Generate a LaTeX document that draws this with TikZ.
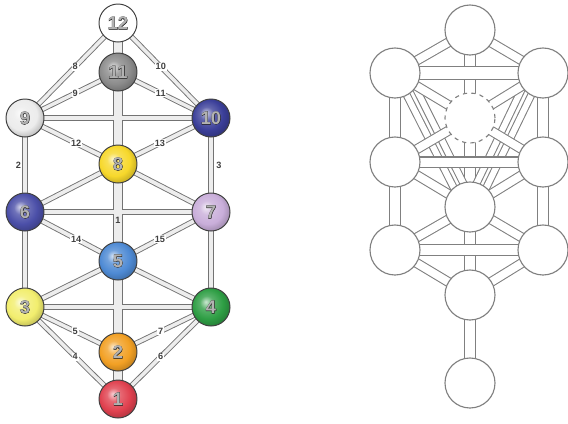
\documentclass[tikz,border=0pt]{standalone}
\usepackage{fontspec}
\setmainfont{Liberation Sans}
\newfontfamily\numoutline{Liberation Sans Bold}[FakeBold=3]
\newfontfamily\numfill{Liberation Sans Bold}
\usetikzlibrary{backgrounds}

\definecolor{c1}{HTML}{E0414F}
\definecolor{c2}{HTML}{F2A024}
\definecolor{c3}{HTML}{F2EE6E}
\definecolor{c4}{HTML}{2E9E44}
\definecolor{c5}{HTML}{4E8AD4}
\definecolor{c6}{HTML}{4B4FA8}
\definecolor{c7}{HTML}{C9AEDA}
\definecolor{c8}{HTML}{F7D82B}
\definecolor{c9}{HTML}{ECECEC}
\definecolor{c10}{HTML}{3B3F99}
\definecolor{c11}{HTML}{8C8C8C}

\colorlet{ballc}{gray}
\pgfdeclareradialshading[ballc]{softball}{\pgfpoint{-7bp}{7bp}}{%
  color(0bp)=(ballc!25!white); color(9bp)=(ballc!80!white);
  color(20bp)=(ballc); color(31bp)=(ballc!75!black); color(50bp)=(ballc!60!black)}

% number with dark rim and light face
\newcommand\ballnum[1]{\makebox[0pt]{\numoutline\color{black!85}#1}\makebox[0pt]{\numfill\color{black!30}#1}}

\tikzset{
  orb/.style={circle, draw=black!75, line width=0.7pt, minimum size=0.95cm, inner sep=0pt,
    font=\fontsize{13}{13}\selectfont},
  sphere/.style={orb, /utils/exec={\colorlet{ballc}{#1}}, shading=softball},
  pathlabel/.style={fill=white, inner sep=0.6pt, font=\fontsize{6.5}{7}\selectfont\bfseries, text=black!75},
  sefira/.style={circle, draw=black!50, line width=0.8pt, fill=white, minimum size=1.25cm, inner sep=0pt},
  channel/.style={draw=black!50, line width=0.75pt, double=white, double distance=#1,
    shorten <=-3pt, shorten >=-3pt},
}

\def\leftpaths{n12/n11/6.5pt, n11/n8/6.5pt, n8/n5/6.5pt, n5/n2/6.5pt, n2/n1/6.5pt,
  n9/n10/4.3pt, n6/n7/4.3pt, n3/n4/4.3pt,
  n9/n6/4.3pt, n6/n3/4.3pt, n10/n7/4.3pt, n7/n4/4.3pt,
  n12/n9/3.8pt, n12/n10/3.8pt, n11/n9/3.8pt, n11/n10/3.8pt,
  n9/n8/4pt, n10/n8/4pt, n8/n6/4pt, n8/n7/4pt,
  n6/n5/4pt, n7/n5/4pt, n5/n3/4pt, n5/n4/4pt,
  n3/n2/3.8pt, n3/n1/3.8pt, n4/n2/3.8pt, n4/n1/3.8pt}

\begin{document}
\begin{tikzpicture}[x=0.025cm, y=-0.025cm]
  \useasboundingbox (0,0) rectangle (568,423);

  % numbered tree
  \node[orb, fill=white] (n12) at (118,23) {\ballnum{12}};
  \node[sphere=c11] (n11) at (118,72) {\ballnum{11}};
  \node[sphere=c9] (n9) at (25,118) {\ballnum{9}};
  \node[sphere=c10] (n10) at (211,118) {\ballnum{10}};
  \node[sphere=c8] (n8) at (118,164) {\ballnum{8}};
  \node[sphere=c6] (n6) at (25,212) {\ballnum{6}};
  \node[sphere=c7] (n7) at (211,212) {\ballnum{7}};
  \node[sphere=c5] (n5) at (118,261) {\ballnum{5}};
  \node[sphere=c3] (n3) at (25,307) {\ballnum{3}};
  \node[sphere=c4] (n4) at (211,307) {\ballnum{4}};
  \node[sphere=c2] (n2) at (118,352) {\ballnum{2}};
  \node[sphere=c1] (n1) at (118,399) {\ballnum{1}};

  \begin{scope}[on background layer]
    \foreach \a/\b/\w in \leftpaths
      \draw[line width=\w, black!55] (\a.center) -- (\b.center);
    \foreach \a/\b/\w in \leftpaths
      \draw[line width=\w-1.3pt, black!7] (\a.center) -- (\b.center);

    \path (n9.center) -- (n12.center) node[pathlabel, pos=0.54] {8};
    \path (n10.center) -- (n12.center) node[pathlabel, pos=0.54] {10};
    \path (n9.center) -- (n11.center) node[pathlabel, pos=0.54] {9};
    \path (n10.center) -- (n11.center) node[pathlabel, pos=0.54] {11};
    \path (n9.center) -- (n8.center) node[pathlabel, pos=0.55] {12};
    \path (n10.center) -- (n8.center) node[pathlabel, pos=0.55] {13};
    \path (n6.center) -- (n5.center) node[pathlabel, pos=0.55] {14};
    \path (n7.center) -- (n5.center) node[pathlabel, pos=0.55] {15};
    \path (n3.center) -- (n2.center) node[pathlabel, pos=0.54] {5};
    \path (n3.center) -- (n1.center) node[pathlabel, pos=0.54] {4};
    \path (n4.center) -- (n2.center) node[pathlabel, pos=0.54] {7};
    \path (n4.center) -- (n1.center) node[pathlabel, pos=0.54] {6};
    \path (n9) -- (n6) node[pathlabel, fill=none, midway, left=2pt] {2};
    \path (n10) -- (n7) node[pathlabel, fill=none, midway, right=3pt] {3};
    \path (n8.center) -- (n5.center) node[pathlabel, fill=none, pos=0.58] {1};
  \end{scope}

  % blank tree
  \node[sefira] (K) at (470,30) {};
  \node[sefira] (Bi) at (395,73) {};
  \node[sefira] (Ch) at (543,73) {};
  \node[sefira, dashed] (Da) at (470,118) {};
  \node[sefira] (Ge) at (395,162) {};
  \node[sefira] (Che) at (543,162) {};
  \node[sefira] (Ti) at (470,207) {};
  \node[sefira] (Ho) at (395,250) {};
  \node[sefira] (Ne) at (543,250) {};
  \node[sefira] (Ye) at (470,295) {};
  \node[sefira] (Ma) at (470,383) {};

  \begin{scope}[on background layer]
    \foreach \a/\b in {K/Da, Da/Ti, Ti/Ye, Ye/Ma, Bi/Ge, Ge/Ho, Ch/Che, Che/Ne}
      \draw[channel=7pt] (\a.center) -- (\b.center);
    \draw[channel=4.2pt] (Bi.-62) -- (Ti.130);
    \draw[channel=4.2pt] (Bi.-36) -- (Ti.106);
    \draw[channel=4.2pt] (Ch.-118) -- (Ti.50);
    \draw[channel=4.2pt] (Ch.-144) -- (Ti.74);
    \foreach \a/\b in {K/Bi, K/Ch, Bi/Da, Ch/Da, Ge/Da, Che/Da, Ge/Ti, Che/Ti,
                       Ho/Ti, Ne/Ti, Ho/Ye, Ne/Ye}
      \draw[channel=5.6pt] (\a.center) -- (\b.center);
    \draw[channel=8.4pt] (Bi.center) -- (Ch.center);
    \draw[channel=6.4pt] (Ge.center) -- (Che.center);
    \draw[channel=7.2pt] (Ho.center) -- (Ne.center);
  \end{scope}
\end{tikzpicture}
\end{document}
